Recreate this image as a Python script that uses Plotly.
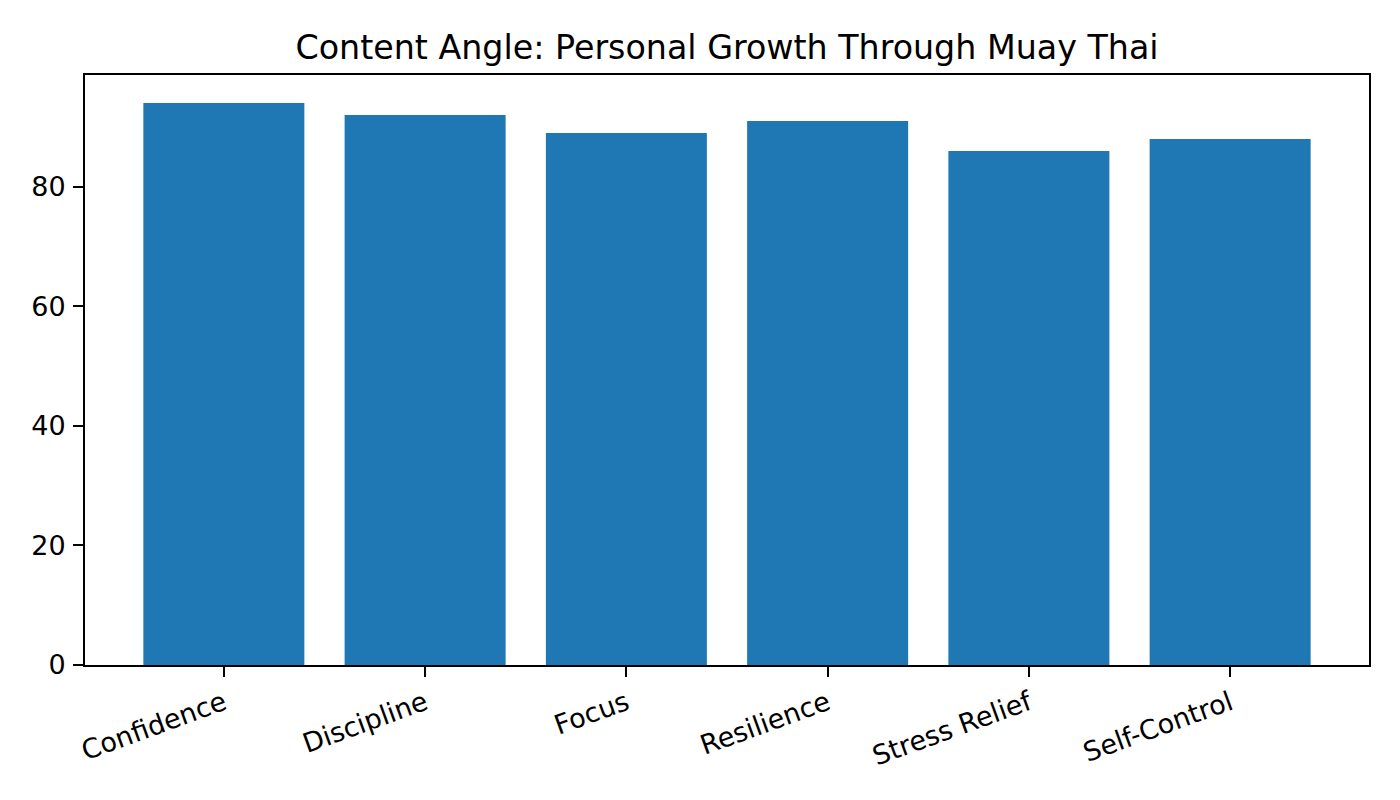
import plotly.graph_objects as go

categories = ["Confidence", "Discipline", "Focus", "Resilience", "Stress Relief", "Self-Control"]
values = [94, 92, 89, 91, 86, 88]
y_ticks = [0, 20, 40, 60, 80]
title_text = "Content Angle: Personal Growth Through Muay Thai"

fig = go.Figure(go.Bar(x=categories, y=values, width=0.8, marker=dict(color="#1f77b4", line=dict(width=0))))

font = "DejaVu Sans"
W, H = 1392, 792
fig.update_layout(
    width=W, height=H,
    paper_bgcolor="white", plot_bgcolor="white",
    margin=dict(l=77, r=31, t=67, b=135),
    title=dict(text=title_text, x=(77 + 1361) / 2 / W, xanchor="center", y=1 - 39 / H, yanchor="middle",
               font=dict(family=font, size=33.3, color="black")),
    font=dict(family=font, color="black"),
    showlegend=False,
    bargap=0.2,
)
fig.update_xaxes(
    type="category", range=[-0.69, 5.69],
    showline=True, linecolor="black", linewidth=2, mirror=True,
    ticks="outside", ticklen=10, tickwidth=2, tickcolor="black",
    tickangle=-20, tickfont=dict(family=font, size=27, color="black"),
    showgrid=False, zeroline=False,
)
fig.update_yaxes(
    range=[0, 98.7], tickvals=y_ticks,
    showline=True, linecolor="black", linewidth=2, mirror=True,
    ticks="outside", ticklen=10, tickwidth=2, tickcolor="black",
    ticklabelstandoff=2,
    tickfont=dict(family=font, size=27, color="black"),
    showgrid=False, zeroline=False,
)
fig.write_html("out.html")
